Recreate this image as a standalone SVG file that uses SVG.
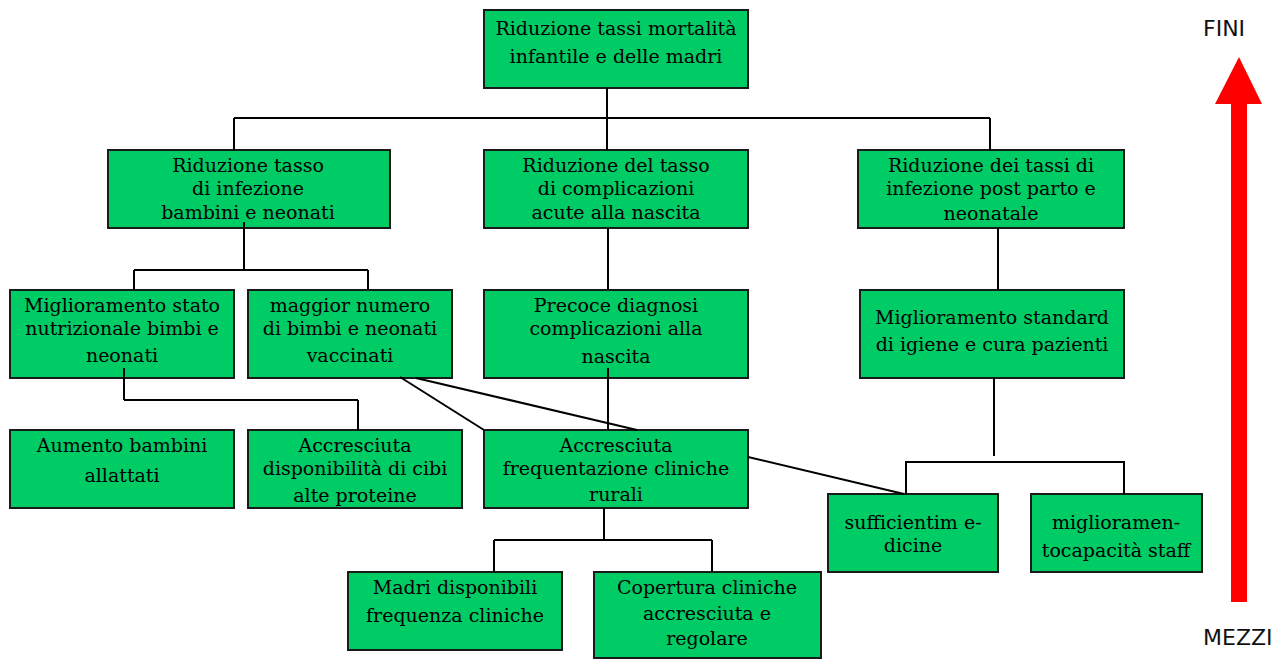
<svg xmlns="http://www.w3.org/2000/svg" width="1281" height="659" viewBox="0 0 1281 659">
  <style>
    .box { fill: #00CC66; stroke: #1a1a1a; stroke-width: 2; }
    .lbl { font-family: "DejaVu Serif", "Liberation Serif", serif; font-size: 19px; fill: #000; text-anchor: middle; }
    .wire { fill: none; stroke: #000; stroke-width: 2; }
    .axis { font-family: "DejaVu Sans", "Liberation Sans", sans-serif; font-size: 22px; fill: #111; }
  </style>
  <rect width="1281" height="659" fill="#fff"/>

  <!-- top goal -->
  <g id="n-mortalita">
    <rect class="box" x="484" y="10" width="264" height="78"/>
    <text class="lbl" x="616" y="35">Riduzione tassi mortalità</text>
    <text class="lbl" x="616" y="63">infantile e delle madri</text>
  </g>

  <!-- second level -->
  <g id="n-infezione-bambini">
    <rect class="box" x="108" y="150" width="282" height="78"/>
    <text class="lbl" x="248" y="172">Riduzione tasso</text>
    <text class="lbl" x="248" y="195">di infezione</text>
    <text class="lbl" x="248" y="219">bambini e neonati</text>
  </g>
  <g id="n-complicazioni">
    <rect class="box" x="484" y="150" width="264" height="78"/>
    <text class="lbl" x="616" y="172">Riduzione del tasso</text>
    <text class="lbl" x="616" y="195">di complicazioni</text>
    <text class="lbl" x="616" y="219">acute alla nascita</text>
  </g>
  <g id="n-postparto">
    <rect class="box" x="858" y="150" width="266" height="78"/>
    <text class="lbl" x="991" y="172">Riduzione dei tassi di</text>
    <text class="lbl" x="991" y="195">infezione post parto e</text>
    <text class="lbl" x="991" y="220">neonatale</text>
  </g>

  <!-- third level -->
  <g id="n-nutrizione">
    <rect class="box" x="10" y="290" width="224" height="88"/>
    <text class="lbl" x="122" y="312">Miglioramento stato</text>
    <text class="lbl" x="122" y="335">nutrizionale bimbi e</text>
    <text class="lbl" x="122" y="362">neonati</text>
  </g>
  <g id="n-vaccinati">
    <rect class="box" x="248" y="290" width="204" height="88"/>
    <text class="lbl" x="350" y="312">maggior numero</text>
    <text class="lbl" x="350" y="335">di bimbi e neonati</text>
    <text class="lbl" x="350" y="362">vaccinati</text>
  </g>
  <g id="n-diagnosi">
    <rect class="box" x="484" y="290" width="264" height="88"/>
    <text class="lbl" x="616" y="312">Precoce diagnosi</text>
    <text class="lbl" x="616" y="335">complicazioni alla</text>
    <text class="lbl" x="616" y="363">nascita</text>
  </g>
  <g id="n-igiene">
    <rect class="box" x="860" y="290" width="264" height="88"/>
    <text class="lbl" x="992" y="324">Miglioramento standard</text>
    <text class="lbl" x="992" y="351">di igiene e cura pazienti</text>
  </g>

  <!-- fourth level -->
  <g id="n-allattati">
    <rect class="box" x="10" y="430" width="224" height="78"/>
    <text class="lbl" x="122" y="452">Aumento bambini</text>
    <text class="lbl" x="122" y="482">allattati</text>
  </g>
  <g id="n-cibi">
    <rect class="box" x="248" y="430" width="214" height="78"/>
    <text class="lbl" x="355" y="452">Accresciuta</text>
    <text class="lbl" x="355" y="475">disponibilità di cibi</text>
    <text class="lbl" x="355" y="502">alte proteine</text>
  </g>
  <g id="n-frequentazione">
    <rect class="box" x="484" y="430" width="264" height="78"/>
    <text class="lbl" x="616" y="452">Accresciuta</text>
    <text class="lbl" x="616" y="475">frequentazione cliniche</text>
    <text class="lbl" x="616" y="501">rurali</text>
  </g>
  <g id="n-medicine">
    <rect class="box" x="828" y="494" width="170" height="78"/>
    <text class="lbl" x="913" y="529">sufficientim e-</text>
    <text class="lbl" x="913" y="552">dicine</text>
  </g>
  <g id="n-staff">
    <rect class="box" x="1031" y="494" width="171" height="78"/>
    <text class="lbl" x="1116" y="529">miglioramen-</text>
    <text class="lbl" x="1116" y="557">tocapacità staff</text>
  </g>

  <!-- fifth level -->
  <g id="n-madri">
    <rect class="box" x="348" y="572" width="214" height="78"/>
    <text class="lbl" x="455" y="594">Madri disponibili</text>
    <text class="lbl" x="455" y="622">frequenza cliniche</text>
  </g>
  <g id="n-copertura">
    <rect class="box" x="594" y="572" width="227" height="86"/>
    <text class="lbl" x="707" y="594">Copertura cliniche</text>
    <text class="lbl" x="707" y="620">accresciuta e</text>
    <text class="lbl" x="707" y="645">regolare</text>
  </g>

  <!-- connectors -->
  <g id="connectors">
    <path class="wire" d="M607 88 V118 M234 118 H990 M234 118 V150 M607 118 V150 M990 118 V150"/>
    <path class="wire" d="M244 222 V270 M134 270 H368 M134 270 V290 M368 270 V290"/>
    <path class="wire" d="M608 228 V290"/>
    <path class="wire" d="M998 228 V290"/>
    <path class="wire" d="M124 368 V400 M124 400 H358 M358 400 V430"/>
    <path class="wire" d="M608 368 V430"/>
    <path class="wire" d="M400 377 L484 430"/>
    <path class="wire" d="M416 378 L637 430"/>
    <path class="wire" d="M748 457 L904 494"/>
    <path class="wire" d="M994 378 V456"/>
    <path class="wire" d="M906 494 V462 H1124 V494"/>
    <path class="wire" d="M604 508 V540 M494 540 H712 M494 540 V572 M712 540 V572"/>
  </g>

  <!-- ends / means axis -->
  <g id="axis">
    <polygon points="1239,57 1262,104 1247,104 1247,602 1231,602 1231,104 1215,104" fill="#FF0000"/>
    <text class="axis" x="1203" y="36">FINI</text>
    <text class="axis" x="1203" y="645">MEZZI</text>
  </g>
</svg>
